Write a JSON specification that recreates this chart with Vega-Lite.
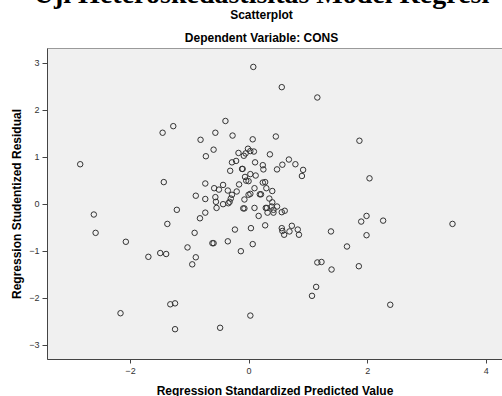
{
  "$schema": "https://vega.github.io/schema/vega-lite/v6.json",
  "width": 455,
  "height": 311,
  "autosize": {"type": "none"},
  "padding": {"left": 47, "top": 48, "right": 0, "bottom": 37},
  "background": "white",
  "title": {
    "text": "Uji Heteroskedastisitas Model Regresi",
    "subtitle": ["Scatterplot", "Dependent Variable: CONS"],
    "font": "Liberation Serif",
    "fontSize": 28,
    "fontWeight": "bold",
    "color": "black",
    "subtitleFont": "Liberation Sans",
    "subtitleFontSize": 12,
    "subtitleFontWeight": "bold",
    "subtitleColor": "black",
    "subtitleLineHeight": 23,
    "subtitlePadding": 1,
    "anchor": "middle",
    "frame": "group",
    "offset": 4,
    "dx": -13
  },
  "config": {
    "view": {"fill": "#F0F0F0", "stroke": "#9a9a9a", "strokeWidth": 1}
  },
  "data": {
    "values": [
      {"x": -2.84, "y": 0.84}, {"x": -1.45, "y": 1.51}, {"x": -1.27, "y": 1.65}, {"x": -1.43, "y": 0.46},
      {"x": -0.89, "y": 0.17}, {"x": -2.61, "y": -0.23}, {"x": -1.21, "y": -0.13}, {"x": -2.58, "y": -0.62},
      {"x": -1.37, "y": -0.43}, {"x": -2.07, "y": -0.81}, {"x": -0.91, "y": -0.62}, {"x": -1.03, "y": -0.93},
      {"x": -1.69, "y": -1.13}, {"x": -1.49, "y": -1.05}, {"x": -1.39, "y": -1.07}, {"x": -0.89, "y": -1.14},
      {"x": -0.95, "y": -1.29}, {"x": -1.32, "y": -2.14}, {"x": -1.24, "y": -2.12}, {"x": -2.16, "y": -2.33},
      {"x": -1.24, "y": -2.67}, {"x": 0.08, "y": 2.91}, {"x": -0.39, "y": 1.76}, {"x": -0.56, "y": 1.51},
      {"x": -0.81, "y": 1.36}, {"x": -0.27, "y": 1.45}, {"x": 0.07, "y": 1.37}, {"x": -0.59, "y": 1.15},
      {"x": -0.72, "y": 1.01}, {"x": -0.17, "y": 1.08}, {"x": -0.01, "y": 1.17}, {"x": -0.08, "y": 1.02},
      {"x": -0.05, "y": 1.07}, {"x": 0.09, "y": 1.11}, {"x": 0.03, "y": 1.12}, {"x": -0.28, "y": 0.88},
      {"x": -0.21, "y": 0.91}, {"x": 0.11, "y": 0.88}, {"x": 0.24, "y": 0.82}, {"x": -0.31, "y": 0.70},
      {"x": -0.11, "y": 0.74}, {"x": -0.10, "y": 0.74}, {"x": 0.03, "y": 0.63}, {"x": 0.12, "y": 0.60},
      {"x": -0.06, "y": 0.57}, {"x": -0.04, "y": 0.49}, {"x": 0.00, "y": 0.48}, {"x": 0.25, "y": 0.73},
      {"x": -0.73, "y": 0.43}, {"x": -0.43, "y": 0.40}, {"x": -0.16, "y": 0.41}, {"x": 0.56, "y": 2.48},
      {"x": 1.16, "y": 2.26}, {"x": 0.46, "y": 1.43}, {"x": 0.36, "y": 1.05}, {"x": 0.48, "y": 0.73},
      {"x": 0.57, "y": 0.83}, {"x": 0.68, "y": 0.94}, {"x": 0.79, "y": 0.84}, {"x": 0.92, "y": 0.72},
      {"x": 0.90, "y": 0.59}, {"x": 0.28, "y": 0.46}, {"x": 0.24, "y": 0.45}, {"x": 1.87, "y": 1.34},
      {"x": 2.04, "y": 0.54}, {"x": 0.10, "y": 0.33}, {"x": 0.30, "y": 0.33}, {"x": 0.40, "y": 0.27},
      {"x": 0.03, "y": 0.21}, {"x": 0.19, "y": 0.20}, {"x": 0.21, "y": 0.20}, {"x": 0.35, "y": 0.11},
      {"x": 0.40, "y": 0.03}, {"x": 0.10, "y": -0.09}, {"x": 0.29, "y": -0.09}, {"x": 0.31, "y": -0.09},
      {"x": 0.39, "y": -0.06}, {"x": 0.48, "y": -0.06}, {"x": 0.42, "y": -0.13}, {"x": 0.17, "y": -0.26},
      {"x": 0.32, "y": -0.19}, {"x": 0.42, "y": -0.19}, {"x": 0.56, "y": -0.18}, {"x": 0.61, "y": -0.15},
      {"x": 0.28, "y": -0.46}, {"x": 0.56, "y": -0.52}, {"x": 0.57, "y": -0.58}, {"x": 0.60, "y": -0.66},
      {"x": 0.73, "y": -0.47}, {"x": 0.69, "y": -0.59}, {"x": 0.83, "y": -0.55}, {"x": 0.85, "y": -0.66},
      {"x": 1.39, "y": -0.59}, {"x": 1.99, "y": -0.26}, {"x": 1.90, "y": -0.38}, {"x": 2.27, "y": -0.36},
      {"x": 3.44, "y": -0.43}, {"x": 1.99, "y": -0.67}, {"x": 1.66, "y": -0.91}, {"x": 0.04, "y": -0.52},
      {"x": 0.07, "y": -0.86}, {"x": 1.16, "y": -1.25}, {"x": 1.23, "y": -1.24}, {"x": 1.40, "y": -1.40},
      {"x": 1.86, "y": -1.33}, {"x": 1.14, "y": -1.77}, {"x": 1.07, "y": -1.96}, {"x": 2.39, "y": -2.15},
      {"x": 0.03, "y": -2.38}, {"x": -0.58, "y": 0.33}, {"x": -0.50, "y": 0.30}, {"x": -0.35, "y": 0.28},
      {"x": -0.28, "y": 0.19}, {"x": -0.30, "y": 0.11}, {"x": -0.32, "y": 0.04}, {"x": -0.20, "y": 0.26},
      {"x": 0.00, "y": 0.19}, {"x": -0.07, "y": 0.09}, {"x": -0.73, "y": 0.10}, {"x": -0.56, "y": 0.14},
      {"x": -0.55, "y": 0.04}, {"x": -0.43, "y": -0.01}, {"x": -0.54, "y": -0.09}, {"x": -0.34, "y": 0.01},
      {"x": -0.09, "y": -0.10}, {"x": -0.07, "y": -0.10}, {"x": -0.73, "y": -0.19}, {"x": -0.82, "y": -0.31},
      {"x": -0.23, "y": -0.55}, {"x": -0.35, "y": -0.80}, {"x": -0.61, "y": -0.84}, {"x": -0.59, "y": -0.84},
      {"x": -0.13, "y": -1.01}, {"x": -0.48, "y": -2.64}
    ]
  },
  "mark": {
    "type": "point",
    "shape": "circle",
    "filled": false,
    "stroke": "#333333",
    "strokeWidth": 1,
    "size": 30,
    "opacity": 1,
    "clip": true
  },
  "encoding": {
    "x": {
      "field": "x",
      "type": "quantitative",
      "scale": {"domain": [-3.4, 4.275], "nice": false, "zero": false},
      "axis": {
        "values": [-2, 0, 2, 4],
        "title": "Regression Standardized Predicted Value",
        "titleFont": "Liberation Sans",
        "titleFontSize": 12,
        "titleFontWeight": "bold",
        "titleColor": "black",
        "titlePadding": 10,
        "labelFont": "Liberation Sans",
        "labelFontSize": 9,
        "labelColor": "#333333",
        "labelPadding": 3,
        "tickSize": 4,
        "tickColor": "#444444",
        "domainColor": "#444444",
        "domainWidth": 1,
        "grid": false
      }
    },
    "y": {
      "field": "y",
      "type": "quantitative",
      "scale": {"domain": [-3.304, 3.313], "nice": false, "zero": false},
      "axis": {
        "values": [-3, -2, -1, 0, 1, 2, 3],
        "title": "Regression Studentized Residual",
        "titleFont": "Liberation Sans",
        "titleFontSize": 12,
        "titleFontWeight": "bold",
        "titleColor": "black",
        "titlePadding": 5,
        "labelFont": "Liberation Sans",
        "labelFontSize": 9,
        "labelColor": "#333333",
        "labelPadding": 3,
        "tickSize": 5,
        "tickColor": "#444444",
        "domainColor": "#444444",
        "domainWidth": 1,
        "grid": false
      }
    }
  }
}
